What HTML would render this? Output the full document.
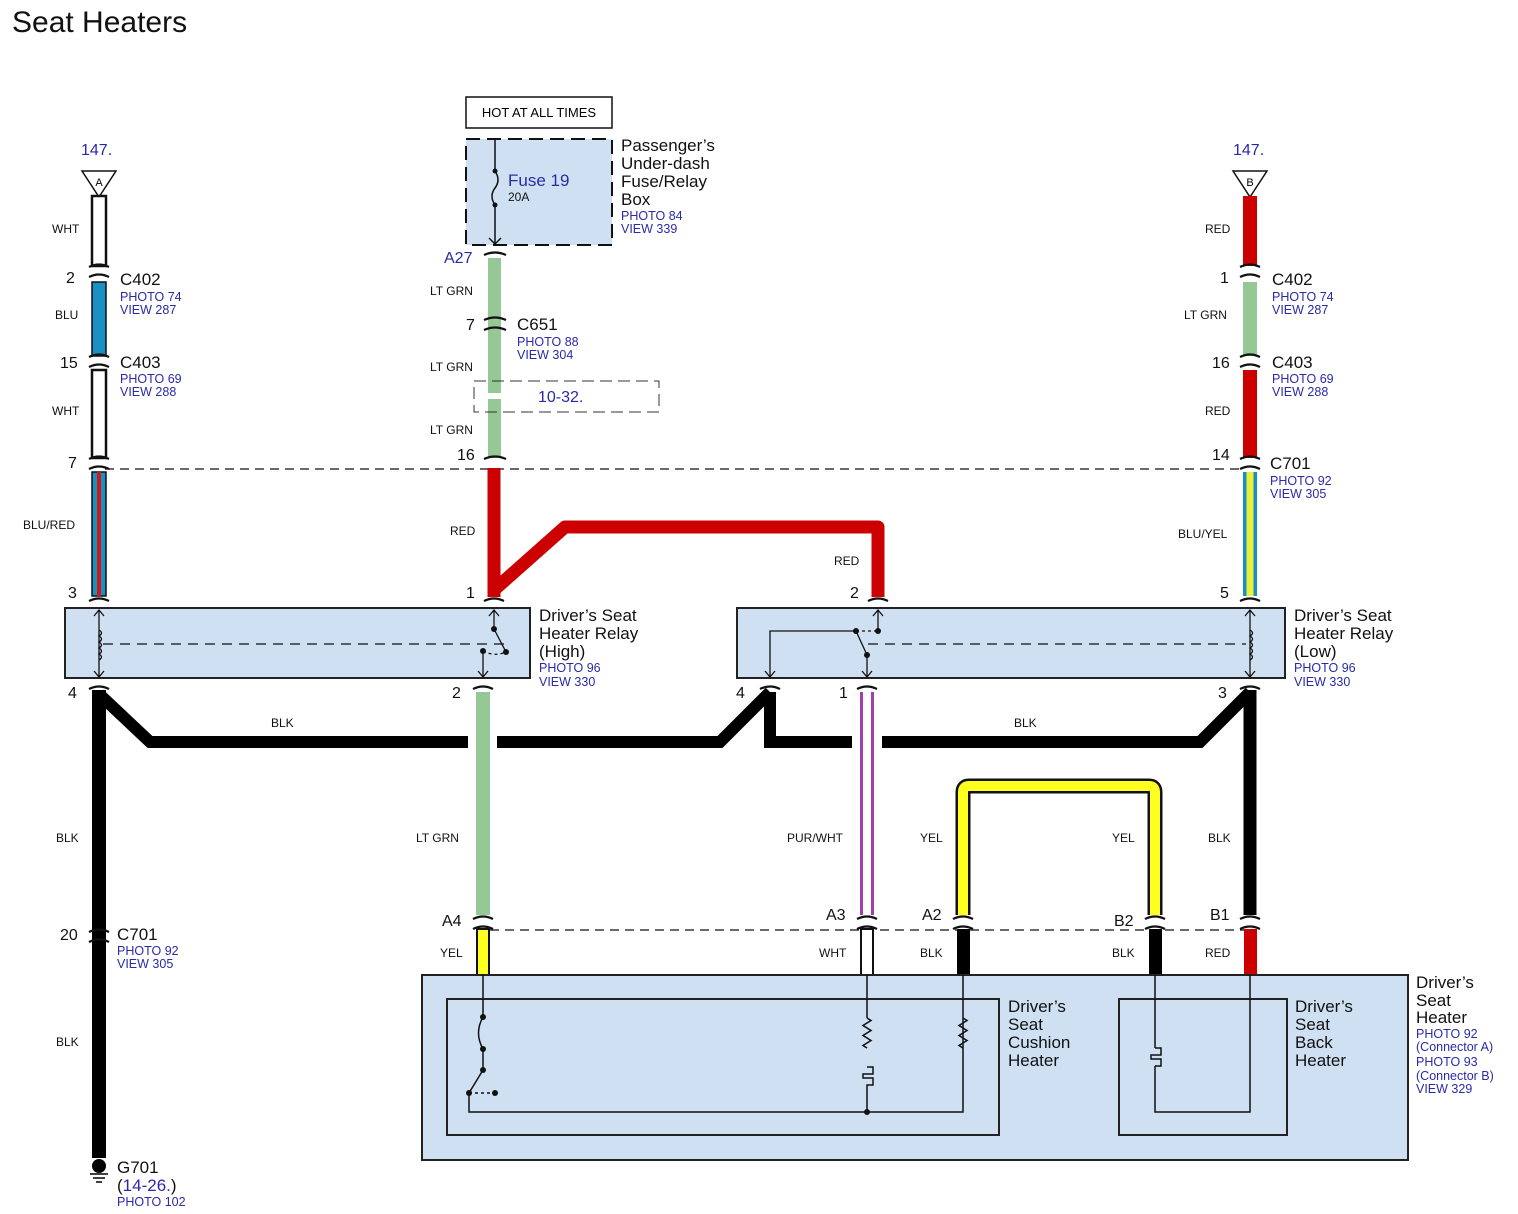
<!DOCTYPE html>
<html><head><meta charset="utf-8"><style>
html,body{margin:0;padding:0;background:#fff;}
svg{display:block;}
text{font-family:"Liberation Sans",sans-serif;}
.w{font-size:12px;fill:#111;}
.p{font-size:16px;fill:#111;}
.c{font-size:17px;fill:#111;}
.b{font-size:12.5px;fill:#2a2aa8;}
.n{font-size:17px;fill:#111;}
</style></head><body>
<svg width="1518" height="1214" viewBox="0 0 1518 1214" xmlns="http://www.w3.org/2000/svg">
<text x="12" y="32" style="font-size:30px;fill:#111">Seat Heaters</text>

<g stroke="#111" stroke-width="1.3" stroke-dasharray="9,6" fill="none">
<line x1="105" y1="469" x2="1244" y2="469"/>
<line x1="490" y1="930" x2="1244" y2="930"/>
</g>

<!-- Left wire A -->
<polygon points="82,171 116,171 99,197" fill="#fff" stroke="#111" stroke-width="1.5"/>
<text x="99" y="186" text-anchor="middle" style="font-size:11px">A</text>
<text x="81" y="155" style="font-size:16px;fill:#2a2aa8">147.</text>
<rect x="92" y="196" width="14" height="70" fill="#fff" stroke="#111" stroke-width="2.5"/>
<rect x="92" y="282" width="14" height="74" fill="#1a8fc4" stroke="#111" stroke-width="1.5"/>
<rect x="92" y="370" width="14" height="88" fill="#fff" stroke="#111" stroke-width="2.5"/>
<rect x="92" y="472" width="14" height="124" fill="#1a8fc4" stroke="#111" stroke-width="1.5"/>
<rect x="97" y="472" width="4" height="124" fill="#d01818"/>
<line x1="99" y1="690" x2="99" y2="1158" stroke="#000" stroke-width="14"/>
<polyline points="99,694 150,742 468,742" fill="none" stroke="#000" stroke-width="12"/>
<polyline points="497,742 720,742 770,692" fill="none" stroke="#000" stroke-width="12"/>
<polyline points="770,692 770,742 852,742" fill="none" stroke="#000" stroke-width="12"/>
<polyline points="882,742 1200,742 1250,692" fill="none" stroke="#000" stroke-width="12"/>
<circle cx="99" cy="1166" r="7" fill="#000"/>
<line x1="90" y1="1174" x2="108" y2="1174" stroke="#000" stroke-width="1.5"/>
<line x1="93" y1="1178" x2="105" y2="1178" stroke="#000" stroke-width="1.5"/>
<line x1="96" y1="1182" x2="102" y2="1182" stroke="#000" stroke-width="1.5"/>

<text class="w" x="52" y="233">WHT</text>
<text class="w" x="55" y="319">BLU</text>
<text class="w" x="52" y="415">WHT</text>
<text class="w" x="23" y="529">BLU/RED</text>
<text class="w" x="56" y="842">BLK</text>
<text class="w" x="56" y="1046">BLK</text>
<text class="w" x="271" y="727">BLK</text>
<text class="w" x="1014" y="727">BLK</text>

<text class="p" x="66" y="283">2</text>
<text class="c" x="120" y="285">C402</text>
<text class="b" x="120" y="301">PHOTO 74</text><text class="b" x="120" y="314">VIEW 287</text>
<text class="p" x="60" y="368">15</text>
<text class="c" x="120" y="368">C403</text>
<text class="b" x="120" y="383">PHOTO 69</text><text class="b" x="120" y="396">VIEW 288</text>
<text class="p" x="68" y="468">7</text>
<text class="p" x="68" y="598">3</text>
<text class="p" x="68" y="698">4</text>
<text class="p" x="60" y="940">20</text>
<text class="c" x="117" y="940">C701</text>
<text class="b" x="117" y="955">PHOTO 92</text><text class="b" x="117" y="968">VIEW 305</text>
<text class="c" x="117" y="1173">G701</text>
<text x="117" y="1191" style="font-size:17px;fill:#111">(<tspan fill="#2a2aa8">14-26.</tspan>)</text>
<text class="b" x="117" y="1206">PHOTO 102</text>

<!-- center wire -->
<rect x="466" y="97" width="146" height="31" fill="#fff" stroke="#111" stroke-width="1.5"/>
<text x="539" y="117" text-anchor="middle" style="font-size:13px">HOT AT ALL TIMES</text>
<rect x="466" y="139" width="146" height="106" fill="#cfe0f3" stroke="#111" stroke-width="2" stroke-dasharray="14,7"/>
<g stroke="#111" stroke-width="1.5" fill="none">
<line x1="495" y1="139" x2="495" y2="171"/>
<path d="M495,171 Q501,180 495,188 Q489,196 495,205"/>
<line x1="495" y1="205" x2="495" y2="244"/>
<path d="M489,238 L495,244 L501,238"/>
</g>
<circle cx="495" cy="171" r="2.5" fill="#111"/><circle cx="495" cy="205" r="2.5" fill="#111"/>
<text x="508" y="186" style="font-size:17px;fill:#2a2aa8">Fuse 19</text>
<text x="508" y="201" style="font-size:12px;fill:#111">20A</text>
<text class="n" x="621" y="151">Passenger’s</text>
<text class="n" x="621" y="169">Under-dash</text>
<text class="n" x="621" y="187">Fuse/Relay</text>
<text class="n" x="621" y="205">Box</text>
<text class="b" x="621" y="220">PHOTO 84</text><text class="b" x="621" y="233">VIEW 339</text>
<text x="444" y="263" style="font-size:16px;fill:#2a2aa8">A27</text>

<rect x="488" y="258" width="13" height="200" fill="#96c896"/>
<rect x="474" y="381" width="185" height="31" fill="none" stroke="#333" stroke-width="1" stroke-dasharray="12,6"/>
<rect x="486" y="393" width="17" height="6" fill="#fff"/>
<text x="538" y="402" style="font-size:16px;fill:#2a2aa8">10-32.</text>
<text class="w" x="430" y="295">LT GRN</text>
<text class="w" x="430" y="371">LT GRN</text>
<text class="w" x="430" y="434">LT GRN</text>
<text class="p" x="466" y="330">7</text>
<text class="c" x="517" y="330">C651</text>
<text class="b" x="517" y="346">PHOTO 88</text><text class="b" x="517" y="359">VIEW 304</text>
<text class="p" x="457" y="460">16</text>

<line x1="494" y1="468" x2="494" y2="597" stroke="#cc0000" stroke-width="13"/>
<polyline points="494,590 565,527 878,527 878,597" fill="none" stroke="#cc0000" stroke-width="13" stroke-linejoin="round"/>
<text class="w" x="450" y="535">RED</text>
<text class="w" x="834" y="565">RED</text>
<text class="p" x="466" y="598">1</text>
<text class="p" x="850" y="598">2</text>

<!-- Relay High -->
<rect x="65" y="608" width="465" height="70" fill="#cfe0f3" stroke="#222" stroke-width="2"/>
<g stroke="#111" stroke-width="1.3" fill="none">
<line x1="99" y1="610" x2="99" y2="676"/>
<path d="M94,616 L99,610 L104,616 M94,671 L99,677 L104,671"/>
<path d="M99,630 q5,3 0,6 q5,3 0,6 q5,3 0,6 q5,3 0,6 q5,3 0,6"/>
<line x1="103" y1="644" x2="505" y2="644" stroke-dasharray="10,7"/>
<line x1="494" y1="610" x2="494" y2="629"/>
<path d="M489,616 L494,610 L499,616"/>
<line x1="494" y1="629" x2="506" y2="652"/>
<path d="M483,651 Q495,657 506,652" stroke-dasharray="3,3"/>
<line x1="483" y1="651" x2="483" y2="676"/>
<path d="M478,671 L483,677 L488,671"/>
</g>
<circle cx="494" cy="629" r="3" fill="#111"/><circle cx="506" cy="652" r="3" fill="#111"/><circle cx="483" cy="651" r="3" fill="#111"/>
<text class="n" x="539" y="621">Driver’s Seat</text>
<text class="n" x="539" y="639">Heater Relay</text>
<text class="n" x="539" y="657">(High)</text>
<text class="b" x="539" y="672">PHOTO 96</text><text class="b" x="539" y="686">VIEW 330</text>
<text class="p" x="452" y="698">2</text>

<!-- Relay Low -->
<rect x="737" y="608" width="548" height="70" fill="#cfe0f3" stroke="#222" stroke-width="2"/>
<g stroke="#111" stroke-width="1.3" fill="none">
<line x1="1250" y1="610" x2="1250" y2="676"/>
<path d="M1245,616 L1250,610 L1255,616 M1245,671 L1250,677 L1255,671"/>
<path d="M1250,630 q5,3 0,6 q5,3 0,6 q5,3 0,6 q5,3 0,6 q5,3 0,6"/>
<line x1="868" y1="644" x2="1246" y2="644" stroke-dasharray="10,7"/>
<line x1="878" y1="610" x2="878" y2="631"/>
<path d="M873,616 L878,610 L883,616"/>
<path d="M856,631 L878,631" stroke-dasharray="3,3"/>
<polyline points="856,631 770,631 770,676"/>
<path d="M765,671 L770,677 L775,671"/>
<line x1="856" y1="631" x2="867" y2="655"/>
<line x1="867" y1="655" x2="867" y2="676"/>
<path d="M862,671 L867,677 L872,671"/>
</g>
<circle cx="856" cy="631" r="3" fill="#111"/><circle cx="878" cy="631" r="3" fill="#111"/><circle cx="867" cy="655" r="3" fill="#111"/>
<text class="n" x="1294" y="621">Driver’s Seat</text>
<text class="n" x="1294" y="639">Heater Relay</text>
<text class="n" x="1294" y="657">(Low)</text>
<text class="b" x="1294" y="672">PHOTO 96</text><text class="b" x="1294" y="686">VIEW 330</text>
<text class="p" x="736" y="698">4</text>
<text class="p" x="839" y="698">1</text>
<text class="p" x="1218" y="698">3</text>

<!-- Right wire B -->
<polygon points="1233,171 1267,171 1250,197" fill="#fff" stroke="#111" stroke-width="1.5"/>
<text x="1250" y="186" text-anchor="middle" style="font-size:11px">B</text>
<text x="1233" y="155" style="font-size:16px;fill:#2a2aa8">147.</text>
<rect x="1243" y="196" width="14" height="70" fill="#cc0000"/>
<rect x="1243" y="282" width="14" height="74" fill="#96c896"/>
<rect x="1243" y="370" width="14" height="88" fill="#cc0000"/>
<rect x="1243" y="472" width="14" height="124" fill="#1a8fc4"/>
<rect x="1246.5" y="472" width="7" height="124" fill="#ecf03c"/>
<line x1="1250" y1="690" x2="1250" y2="915" stroke="#000" stroke-width="13"/>
<text class="w" x="1205" y="233">RED</text>
<text class="w" x="1184" y="319">LT GRN</text>
<text class="w" x="1205" y="415">RED</text>
<text class="w" x="1178" y="538">BLU/YEL</text>
<text class="w" x="1208" y="842">BLK</text>
<text class="p" x="1220" y="283">1</text>
<text class="c" x="1272" y="285">C402</text>
<text class="b" x="1272" y="301">PHOTO 74</text><text class="b" x="1272" y="314">VIEW 287</text>
<text class="p" x="1212" y="368">16</text>
<text class="c" x="1272" y="368">C403</text>
<text class="b" x="1272" y="383">PHOTO 69</text><text class="b" x="1272" y="396">VIEW 288</text>
<text class="p" x="1212" y="460">14</text>
<text class="c" x="1270" y="469">C701</text>
<text class="b" x="1270" y="485">PHOTO 92</text><text class="b" x="1270" y="498">VIEW 305</text>
<text class="p" x="1220" y="598">5</text>

<!-- lower wires -->
<rect x="476" y="692" width="14" height="223" fill="#96c896"/>
<rect x="860" y="692" width="14" height="223" fill="#fff"/>
<line x1="861.5" y1="692" x2="861.5" y2="915" stroke="#a040a8" stroke-width="3"/>
<line x1="872.5" y1="692" x2="872.5" y2="915" stroke="#a040a8" stroke-width="3"/>
<path d="M963,915 L963,792 Q963,786 969,786 L1149,786 Q1155,786 1155,792 L1155,915" fill="none" stroke="#111" stroke-width="15"/>
<path d="M963,915 L963,792 Q963,786 969,786 L1149,786 Q1155,786 1155,792 L1155,915" fill="none" stroke="#ffff22" stroke-width="10"/>
<text class="w" x="416" y="842">LT GRN</text>
<text class="w" x="787" y="842">PUR/WHT</text>
<text class="w" x="920" y="842">YEL</text>
<text class="w" x="1112" y="842">YEL</text>

<rect x="477" y="929" width="12" height="46" fill="#ffff22" stroke="#111" stroke-width="2"/>
<rect x="861" y="929" width="12" height="46" fill="#fff" stroke="#111" stroke-width="2"/>
<rect x="957" y="929" width="13" height="46" fill="#000"/>
<rect x="1149" y="929" width="13" height="46" fill="#000"/>
<rect x="1244" y="929" width="13" height="46" fill="#cc0000"/>
<text class="w" x="440" y="957">YEL</text>
<text class="w" x="819" y="957">WHT</text>
<text class="w" x="920" y="957">BLK</text>
<text class="w" x="1112" y="957">BLK</text>
<text class="w" x="1205" y="957">RED</text>
<text class="p" x="442" y="926">A4</text>
<text class="p" x="826" y="920">A3</text>
<text class="p" x="922" y="920">A2</text>
<text class="p" x="1114" y="926">B2</text>
<text class="p" x="1210" y="920">B1</text>

<g fill="none" stroke="#111" stroke-width="2.2">
<path d="M89,267 Q99,262 109,267 M89,277 Q99,272 109,277"/>
<path d="M89,357 Q99,352 109,357 M89,367 Q99,362 109,367"/>
<path d="M89,459 Q99,454 109,459 M89,469 Q99,464 109,469"/>
<path d="M89,601 Q99,596 109,601"/>
<path d="M89,689 Q99,684 109,689"/>
<path d="M89,932 Q99,927 109,932 M89,942 Q99,937 109,942"/>
<path d="M484,255 Q495,250 506,255"/>
<path d="M484,320 Q495,315 506,320 M484,330 Q495,325 506,330"/>
<path d="M484,459 Q495,454 506,459"/>
<path d="M484,601 Q494,596 504,601"/>
<path d="M868,601 Q878,596 888,601"/>
<path d="M1240,601 Q1250,596 1260,601"/>
<path d="M473,689 Q483,684 493,689"/>
<path d="M760,689 Q770,684 780,689"/>
<path d="M857,689 Q867,684 877,689"/>
<path d="M1240,689 Q1250,684 1260,689"/>
<path d="M1240,267 Q1250,262 1260,267 M1240,277 Q1250,272 1260,277"/>
<path d="M1240,357 Q1250,352 1260,357 M1240,367 Q1250,362 1260,367"/>
<path d="M1240,459 Q1250,454 1260,459 M1240,469 Q1250,464 1260,469"/>
<path d="M473,919 Q483,914 493,919 M473,929 Q483,924 493,929"/>
<path d="M857,919 Q867,914 877,919 M857,929 Q867,924 877,929"/>
<path d="M953,919 Q963,914 973,919 M953,929 Q963,924 973,929"/>
<path d="M1145,919 Q1155,914 1165,919 M1145,929 Q1155,924 1165,929"/>
<path d="M1240,919 Q1250,914 1260,919 M1240,929 Q1250,924 1260,929"/>
</g>

<!-- Seat heater -->
<rect x="422" y="975" width="986" height="185" fill="#cfe0f3" stroke="#222" stroke-width="2"/>
<rect x="447" y="999" width="552" height="136" fill="none" stroke="#222" stroke-width="2"/>
<rect x="1119" y="999" width="168" height="136" fill="none" stroke="#222" stroke-width="2"/>
<g stroke="#111" stroke-width="1.5" fill="none">
<line x1="483" y1="975" x2="483" y2="1017"/>
<path d="M483,1017 Q474,1033 483,1049"/>
<line x1="483" y1="1049" x2="483" y2="1070"/>
<line x1="483" y1="1070" x2="469" y2="1093"/>
<line x1="469" y1="1093" x2="495" y2="1093" stroke-dasharray="3,3"/>
<polyline points="469,1093 469,1112 963,1112 963,975"/>
<polyline points="867,975 867,1018 M867,1048 L867,1067"/>
<path d="M867,1018 l4,2.5 l-8,5 l8,5 l-8,5 l8,5 l-8,5 l4,2.5"/>
<path d="M963,1018 l4,2.5 l-8,5 l8,5 l-8,5 l8,5 l-8,5 l4,2.5"/>
<path d="M867,1067 h6 v7 h-10 v4 h10 v7 h-6 v27"/>
<polyline points="1155,975 1155,1048"/>
<path d="M1155,1048 h6 v7 h-10 v4 h10 v7 h-6"/>
<polyline points="1155,1066 1155,1112 1250,1112 1250,975"/>
</g>
<circle cx="483" cy="1017" r="3" fill="#111"/><circle cx="483" cy="1049" r="3" fill="#111"/><circle cx="483" cy="1070" r="3" fill="#111"/>
<circle cx="469" cy="1093" r="3" fill="#111"/><circle cx="495" cy="1093" r="3" fill="#111"/><circle cx="867" cy="1112" r="3" fill="#111"/>
<text class="n" x="1008" y="1012">Driver’s</text>
<text class="n" x="1008" y="1030">Seat</text>
<text class="n" x="1008" y="1048">Cushion</text>
<text class="n" x="1008" y="1066">Heater</text>
<text class="n" x="1295" y="1012">Driver’s</text>
<text class="n" x="1295" y="1030">Seat</text>
<text class="n" x="1295" y="1048">Back</text>
<text class="n" x="1295" y="1066">Heater</text>
<text class="n" x="1416" y="988">Driver’s</text>
<text class="n" x="1416" y="1006">Seat</text>
<text class="n" x="1416" y="1023">Heater</text>
<text class="b" x="1416" y="1038">PHOTO 92</text>
<text class="b" x="1416" y="1051">(Connector A)</text>
<text class="b" x="1416" y="1066">PHOTO 93</text>
<text class="b" x="1416" y="1080">(Connector B)</text>
<text class="b" x="1416" y="1093">VIEW 329</text>
</svg>
</body></html>
